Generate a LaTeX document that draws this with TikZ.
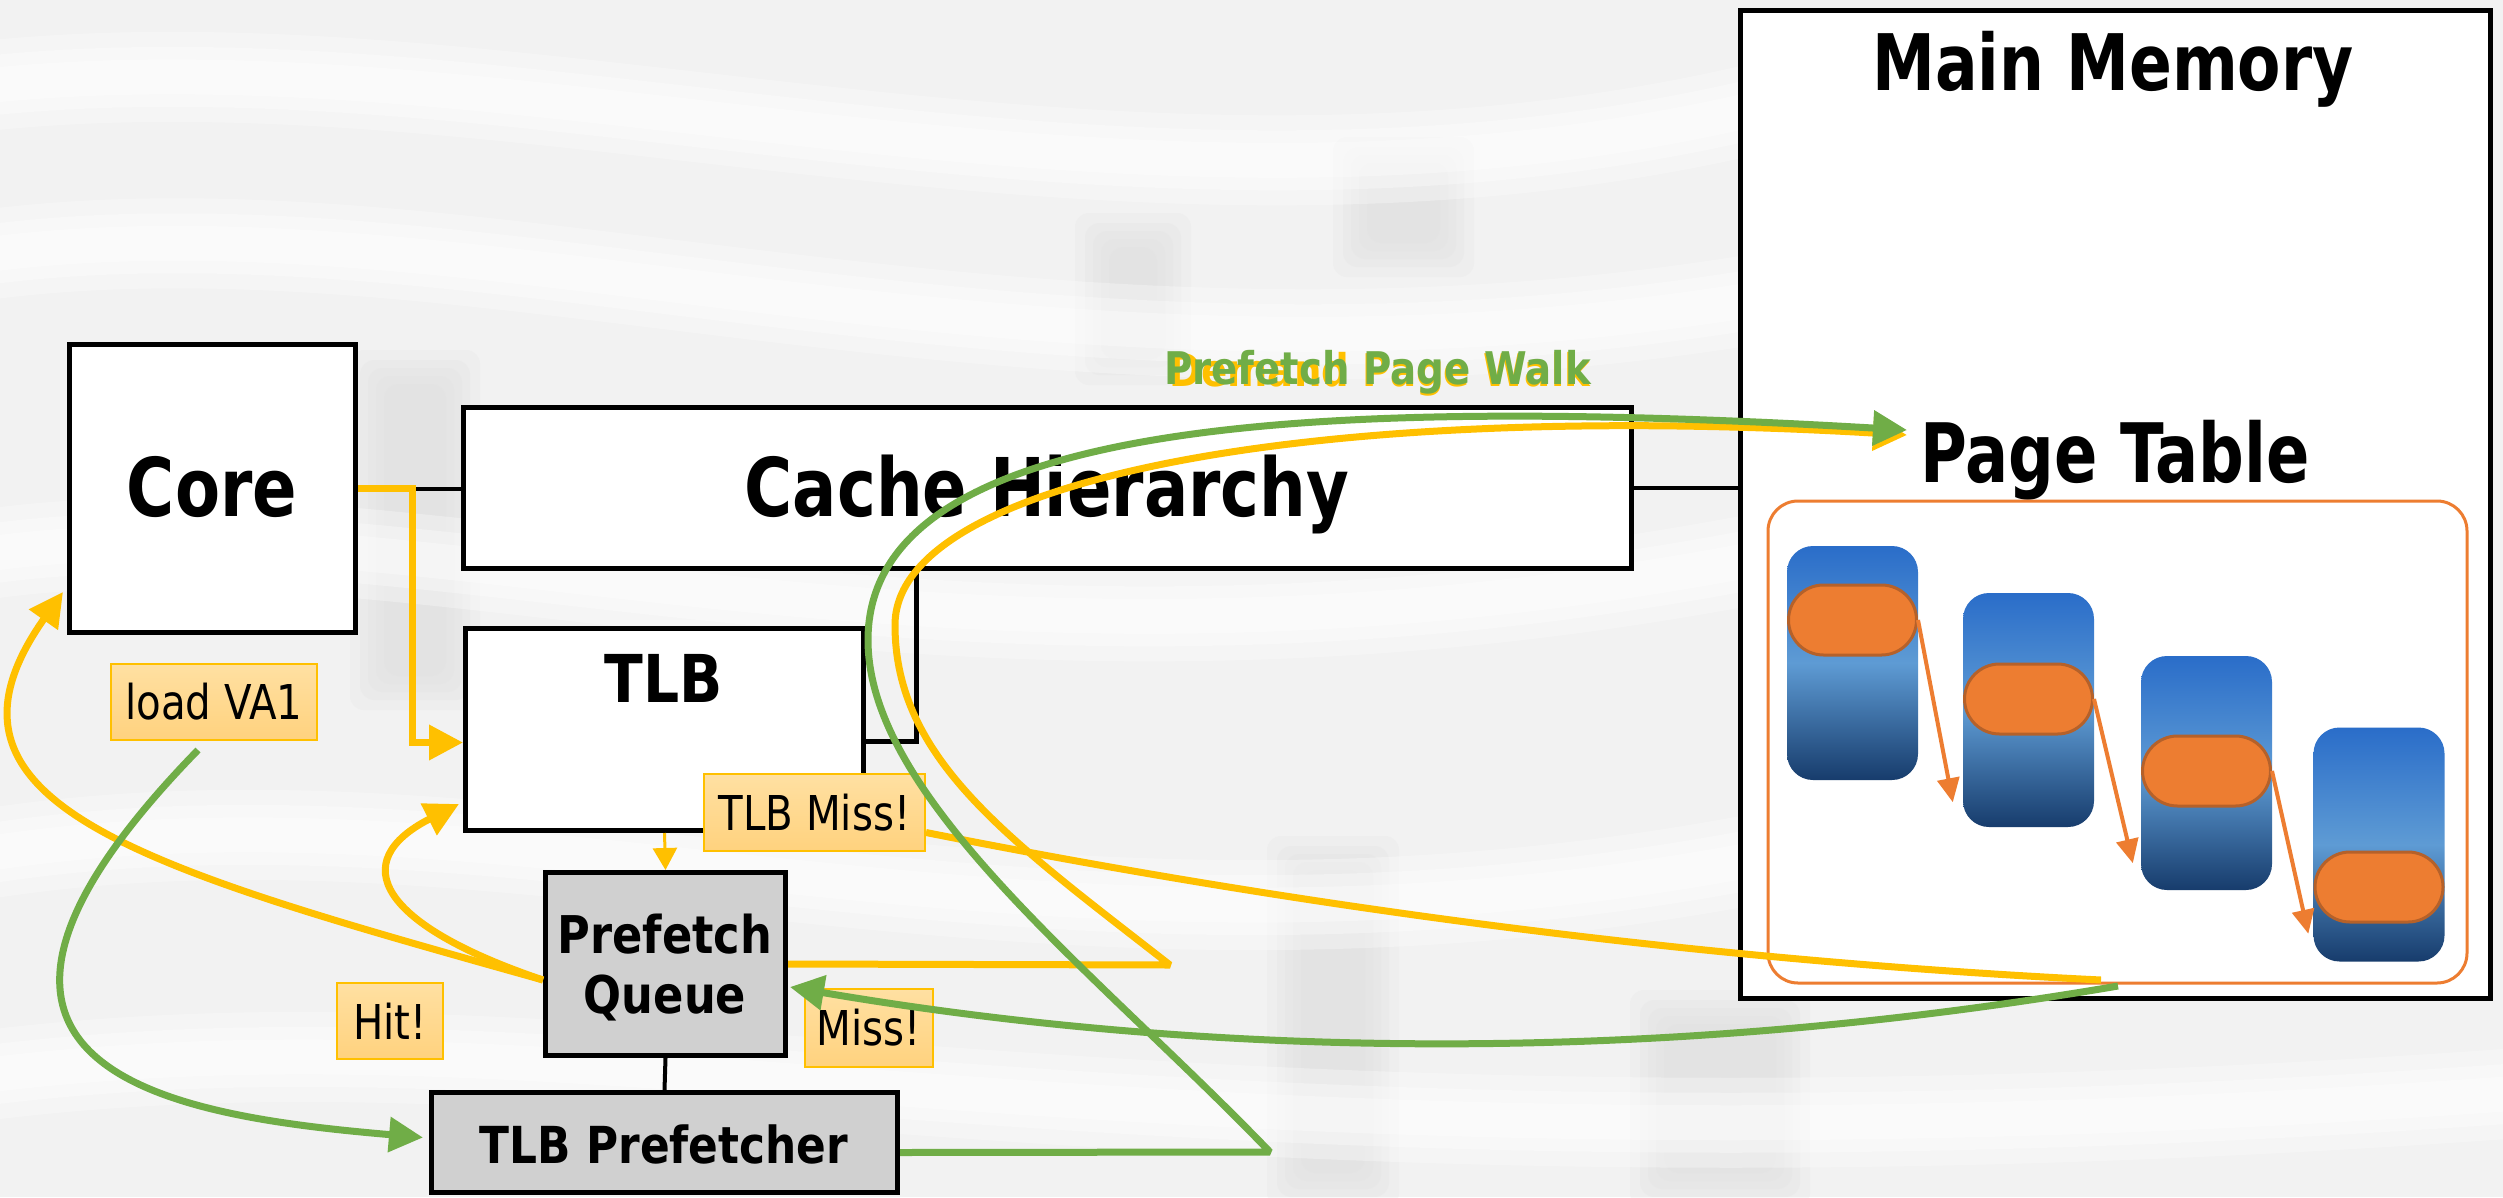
\documentclass[tikz,border=0pt]{standalone}
\usepackage{fontspec}
\setmainfont{DejaVu Sans}
\newfontfamily\tagfont{DejaVu Sans}[FakeStretch=0.84]
\newfontfamily\wideA{DejaVu Sans}[FakeStretch=0.81]
\newfontfamily\wideB{DejaVu Sans}[FakeStretch=0.86]
\newfontfamily\wideC{DejaVu Sans}[FakeStretch=0.78]
\usetikzlibrary{arrows.meta,calc,shapes.misc}

\definecolor{amber}{HTML}{FFC000}
\definecolor{leaf}{HTML}{70AD47}
\definecolor{tang}{HTML}{ED7D31}
\definecolor{tangdark}{HTML}{B5612A}
\definecolor{tagtop}{HTML}{FFE0A2}
\definecolor{tagbot}{HTML}{FFD27E}
\definecolor{boxgray}{HTML}{D0D0D0}
\definecolor{paper}{HTML}{F2F2F2}
\definecolor{blob}{HTML}{E0E0E0}
\definecolor{pgtop}{HTML}{2A6DC9}
\definecolor{pgmid}{HTML}{5E9BD4}
\definecolor{pgbot}{HTML}{173C6C}

\tikzset{
  blk/.style={rectangle, draw=black, line width=5pt, fill=white, inner sep=0pt},
  grayblk/.style={blk, fill=boxgray},
  txt/.style={inner sep=0pt, anchor=base},
  tag/.style={rectangle, draw=amber, line width=2pt, top color=tagtop, bottom color=tagbot,
    inner sep=0pt, font=\tagfont\fontsize{48}{48}\selectfont},
  wire/.style={draw=black, line width=4pt},
  flowY/.style={draw=amber, line width=7pt, -{Triangle[length=34pt,width=34pt]}},
  flowG/.style={draw=leaf, line width=7pt, -{Triangle[length=34pt,width=34pt]}},
  pgcol/.style={rectangle, rounded corners=26pt, draw=none, top color=pgtop, bottom color=pgbot,
    middle color=pgmid, minimum width=131pt, minimum height=234pt, inner sep=0pt},
  entry/.style={rounded rectangle, fill=tang, draw=tangdark, line width=3pt,
    minimum width=128pt, minimum height=70pt, inner sep=0pt},
  walk/.style={draw=tang, line width=4pt, -{Triangle[length=24pt,width=22pt]}},
  haze/.style={fill=blob, draw=none, opacity=0.22},
  sheen/.style={draw=white, opacity=0.3, line cap=round},
}

\begin{document}
\begin{tikzpicture}[x=1pt,y=-1pt]
\useasboundingbox (0,0) rectangle (2503,1197);

% soft photographic backdrop
\fill[paper] (0,0) rectangle (2503,1197);
\foreach \a/\b/\c/\d in {1085/223/1181/375, 1343/147/1464/267, 360/360/470/700, 1277/846/1389/1197, 1640/1000/1800/1197} {
  \foreach \g in {-10,0,8,16,24} {
    \fill[haze, rounded corners=14pt] (\a+\g,\b+\g) rectangle (\c-\g,\d-\g);
  }
}
\foreach \w in {90,60,35} {
  \draw[sheen, line width=\w pt] (-50,90) .. controls (500,20) and (1100,260) .. (1750,110);
  \draw[sheen, line width=\w pt] (-50,260) .. controls (450,180) and (1000,420) .. (1750,300);
  \draw[sheen, line width=\w pt] (-50,560) .. controls (400,480) and (900,720) .. (1750,560);
  \draw[sheen, line width=\w pt] (-50,860) .. controls (500,760) and (1000,1000) .. (1750,860);
  \draw[sheen, line width=\w pt] (-50,1080) .. controls (600,990) and (1100,1200) .. (2560,1090);
}

% processor side
\node[blk, minimum width=286pt, minimum height=288pt] (core) at (212.5,488.5) {};
\node[blk, minimum width=1168pt, minimum height=161pt] (cache) at (1047,487.5) {};
\node[blk, minimum width=398pt, minimum height=202pt] (tlb) at (664.5,729.5) {};
\node[grayblk, minimum width=240pt, minimum height=183pt] (pq) at (665.5,964) {};
\node[grayblk, minimum width=466pt, minimum height=100pt] (pref) at (664.5,1142.5) {};

\node[txt, font=\wideA\bfseries\fontsize{81}{81}\selectfont] (coretxt) at (212,516) {Core};
\node[txt, font=\wideA\bfseries\fontsize{81}{81}\selectfont] (cachetxt) at (1047,516) {Cache Hierarchy};
\node[txt, font=\wideB\bfseries\fontsize{66}{66}\selectfont] (tlbtxt) at (664,702) {TLB};
\node[txt, font=\wideB\bfseries\fontsize{52}{52}\selectfont] (pqtxtA) at (665,953) {Prefetch};
\node[txt, font=\wideB\bfseries\fontsize{52}{52}\selectfont] (pqtxtB) at (665,1013) {Queue};
\node[txt, font=\wideB\bfseries\fontsize{51}{51}\selectfont] (preftxt) at (664,1163) {TLB Prefetcher};

% memory side
\node[blk, minimum width=750pt, minimum height=988pt] (mm) at (2115.5,504.5) {};
\node[txt, font=\wideA\bfseries\fontsize{78}{78}\selectfont] (mmtxt) at (2113,90) {Main Memory};
\node[txt, font=\wideC\bfseries\fontsize{82}{82}\selectfont] (pttxt) at (2115,482) {Page Table};
\node[rectangle, draw=tang, line width=3pt, rounded corners=30pt, minimum width=699pt,
      minimum height=482pt, inner sep=0pt] (ptframe) at (2117.5,742) {};

\node[pgcol] (colA) at (1852.5,663) {};
\node[pgcol] (colB) at (2028.5,710) {};
\node[pgcol] (colC) at (2206.5,773) {};
\node[pgcol] (colD) at (2379,844.5) {};
\node[entry] (entA) at (1852.5,620) {};
\node[entry] (entB) at (2028.5,699) {};
\node[entry] (entC) at (2206.5,771) {};
\node[entry] (entD) at (2379,887) {};
\draw[walk] (entA.east) -- ($(colB.south west)+(-10,-25)$);
\draw[walk] (entB.east) -- ($(colC.south west)+(-8,-27)$);
\draw[walk] (entC.east) -- ($(colD.south west)+(-5,-28)$);

% plain links
\draw[wire] (core.east) -- (core.east -| cache.west);
\draw[wire] (cache.east) -- (cache.east -| mm.west);
\draw[wire] (pq.south) -- (pref.north);
\coordinate (tlbtap) at (916,741);
\draw[draw=black, line width=5pt] (cache.south -| tlbtap) -- (tlbtap) -- (tlbtap -| tlb.east);

% step labels
\node[tag, minimum width=206pt, minimum height=76pt] (load) at (214,702) {load VA1};
\node[tag, minimum width=221pt, minimum height=77pt] (tlbmiss) at (814.5,812.5) {TLB Miss!};
\node[tag, minimum width=106pt, minimum height=76pt] (hit) at (390,1021) {Hit!};
\node[tag, minimum width=128pt, minimum height=78pt] (miss) at (869,1028) {Miss!};

\node[txt, anchor=base west, text=amber, font=\wideB\bfseries\fontsize{45}{45}\selectfont] (walkD) at (1169,386) {Demand Page Walk};
\node[txt, anchor=base west, text=leaf, font=\wideB\bfseries\fontsize{45}{45}\selectfont] (walkP) at (1164,384) {Prefetch Page Walk};

\coordinate (gtip) at (1907,430);
\coordinate (ytip) at (1907,435);
\coordinate (walkend) at (2101,980);
\coordinate (walkret) at (2118,986);

% demand path
\draw[flowY] (core.east) -- ++(54,0) |- ($(tlb.west)+(0,13)$);
\draw[draw=amber, line width=3pt, -{Triangle[length=22pt,width=24pt]}] (tlb.south) -- (pq.north);
\draw[flowY] ($(pq.west)+(0,16)$) .. controls (380,925) and (345,862) .. ($(tlb.south west)+(-4,-29)$);
\draw[flowY] ($(pq.west)+(0,16)$) .. controls (140,867) and (-87,804) .. ($(core.south west)+(-4,-43)$);
\draw[draw=amber, line width=7pt] ($(tlbmiss.east)+(0,20)$) .. controls (1322,911) and (1714,961) .. (walkend);
\draw[flowY, line join=bevel] (pq.east) -- (1170,965) .. controls (1010,840) and (895,760) .. (895,625)
      .. controls (895,480) and (1307,400) .. (ytip);

% prefetch path
\draw[flowG] ($(load.south)+(-16,9)$) .. controls (-117,1073) and (175,1116) .. ($(pref.west)+(-6,-5)$);
\draw[flowG, line join=bevel] ($(pref.east)+(0,10)$) -- (1270,1152) .. controls (1100,975) and (868,800) .. (868,640)
      .. controls (868,420) and (1307,395) .. (gtip);
\draw[flowG] (walkret) .. controls (1673,1062) and (1230,1062) .. ($(pq.east)+(2,23)$);
\end{tikzpicture}
\end{document}
